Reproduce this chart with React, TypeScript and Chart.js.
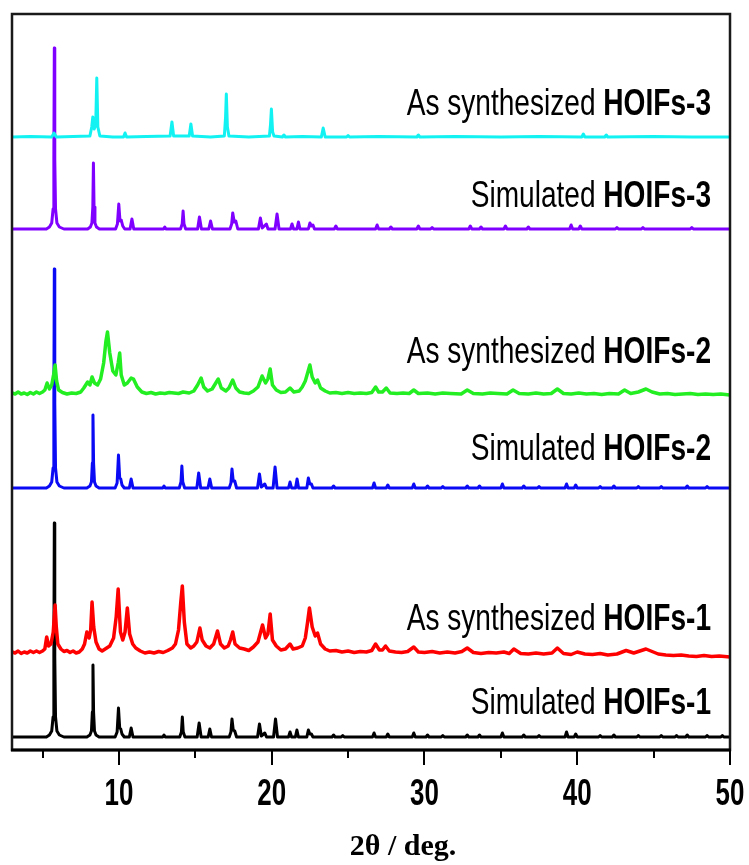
import React, { useEffect, useRef } from "react";
import { Chart, registerables } from "chart.js";

Chart.register(...registerables);

// 2θ range and vertical extent (intensity units, stacked patterns)
const X_MIN = 3;
const X_MAX = 50;
const Y_MAX = 736;
const X_MAJOR = [10, 20, 30, 40, 50];
const X_MINOR = [5, 15, 25, 35, 45];

// Pattern labels (regular prefix + bold sample name), top to bottom
const LABEL_PREFIX = ["As synthesized ", "Simulated ", "As synthesized ", "Simulated ", "As synthesized ", "Simulated "];
const LABEL_BOLD = ["HOIFs-3", "HOIFs-3", "HOIFs-2", "HOIFs-2", "HOIFs-1", "HOIFs-1"];
// Vertical offset of each pattern's baseline
const OFFSETS = [613, 521, 357, 262, 98, 13];
const COLORS = ["#12F2F2", "#8000FF", "#22EE22", "#0A0AF5", "#FF0000", "#000000"];

// As synthesized HOIFs-3: [2θ, intensity]
const asSyn3: number[][] = [
  [3, 0], [4.2, 0.5], [5.6, 0], [5.75, 4], [5.9, 0], [7.0, 0.5], [8.1, 1], [8.22, 10], [8.29, 20], [8.38, 8],
  [8.48, 12], [8.55, 59], [8.62, 10], [8.75, 1], [9.6, 0], [10.3, 0], [10.4, 4], [10.5, 0], [11.8, 0.5],
  [13.35, 1], [13.47, 15], [13.58, 1], [14.6, 1], [14.71, 13], [14.82, 1], [16.0, 0], [16.9, 1],
  [16.98, 20], [17.03, 43], [17.1, 10], [17.2, 1], [18.5, 0], [19.85, 1], [19.92, 12], [19.98, 28],
  [20.06, 5], [20.15, 1], [20.7, 0], [20.8, 2], [20.9, 0], [22.0, 0.5], [23.25, 0], [23.37, 9], [23.5, 0],
  [24.9, 0], [25.0, 1.5], [25.1, 0], [27.0, 0.5], [29.5, 0], [29.6, 2], [29.7, 0], [32.0, 0.5], [35.0, 0],
  [37.5, 0.5], [40.3, 0], [40.4, 3], [40.5, 0], [41.8, 0], [41.9, 2], [42.0, 0], [45.0, 0.5], [47.5, 0], [50, 0],
];

// Simulated HOIFs-3
const sim3: number[][] = [
  [3, 0], [5.25, 0], [5.45, 2], [5.6, 6], [5.69, 20], [5.74, 70], [5.77, 181], [5.8, 70], [5.85, 20],
  [5.94, 6], [6.1, 2], [6.4, 0], [7.95, 0], [8.13, 2], [8.23, 6], [8.29, 22], [8.33, 66], [8.37, 22],
  [8.43, 6], [8.53, 2], [8.72, 0], [9.78, 0], [9.9, 5], [9.99, 25], [10.07, 8], [10.15, 9], [10.25, 3],
  [10.38, 0], [10.73, 0], [10.85, 10], [10.97, 0], [12.92, 0], [13.0, 2], [13.08, 0], [14.03, 0],
  [14.14, 5], [14.2, 18], [14.26, 5], [14.37, 0], [15.15, 0], [15.27, 12], [15.4, 0], [15.88, 0],
  [16.0, 8], [16.12, 0], [17.27, 0], [17.38, 5], [17.45, 16], [17.55, 7], [17.65, 8], [17.78, 0],
  [19.13, 0], [19.26, 11], [19.38, 1], [19.65, 5], [19.76, 0], [20.22, 0], [20.35, 15], [20.48, 0],
  [21.23, 0], [21.33, 5], [21.43, 0], [21.65, 0], [21.75, 7], [21.85, 0], [22.4, 0], [22.5, 6],
  [22.6, 3], [22.7, 4], [22.8, 0], [24.1, 0], [24.2, 3], [24.3, 0], [26.8, 0], [26.9, 4], [27.0, 0],
  [27.7, 0], [27.8, 2], [27.9, 0], [29.5, 0], [29.6, 3], [29.7, 0], [30.4, 0], [30.5, 1.5], [30.6, 0],
  [32.9, 0], [33.0, 3], [33.1, 0], [33.6, 0], [33.7, 2], [33.8, 0], [35.2, 0], [35.3, 3], [35.4, 0],
  [36.7, 0], [36.8, 2], [36.9, 0], [39.5, 0], [39.6, 4], [39.7, 0], [40.1, 0], [40.2, 3], [40.3, 0],
  [42.5, 0], [42.6, 1.5], [42.7, 0], [44.2, 0], [44.3, 1.5], [44.4, 0], [47.4, 0], [47.5, 1.5],
  [47.6, 0], [50, 0],
];

// As synthesized HOIFs-2
const asSyn2: number[][] = [
  [3, 0], [3.2, -1], [3.4, 1], [3.6, -1], [3.8, 0], [4.0, -1.5], [4.2, 0.5], [4.4, -1], [4.6, 1], [4.8, -0.5],
  [5.0, 1], [5.15, 3], [5.3, 10], [5.45, 4], [5.6, 8], [5.72, 18], [5.82, 28], [5.92, 12], [6.05, 3],
  [6.3, 0.5], [6.6, -1], [6.9, 0], [7.2, -0.5], [7.5, 1], [7.7, 5], [7.95, 11], [8.1, 8], [8.24, 16],
  [8.4, 10], [8.6, 8], [8.8, 14], [9.0, 30], [9.15, 52], [9.25, 61], [9.4, 40], [9.6, 22], [9.8, 18],
  [9.95, 30], [10.05, 40], [10.15, 18], [10.35, 8], [10.55, 10], [10.8, 15], [10.95, 14], [11.2, 6],
  [11.5, 1], [11.8, -0.5], [12.1, 0.5], [12.4, -1], [12.7, 0], [13.0, -0.5], [13.3, 0.5], [13.6, 0],
  [13.9, -0.5], [14.2, 1], [14.6, 0], [14.9, 2], [15.15, 8], [15.38, 15], [15.55, 6], [15.8, 2], [16.1, 4],
  [16.3, 9], [16.5, 14], [16.7, 5], [17.0, 2], [17.2, 5], [17.45, 13], [17.65, 5], [17.9, 1], [18.2, 0],
  [18.5, -0.5], [18.8, 2], [19.1, 6], [19.37, 17], [19.6, 10], [19.75, 14], [19.9, 24], [20.05, 8],
  [20.3, 3], [20.6, 0.5], [20.9, 1], [21.2, 5], [21.45, 1], [21.8, 2], [22.0, 6], [22.2, 12], [22.35, 20],
  [22.5, 28], [22.65, 16], [22.85, 10], [23.0, 13], [23.2, 5], [23.5, 2], [23.8, 0], [24.2, 0.5],
  [24.6, -0.5], [25.0, 0.5], [25.4, -0.5], [25.8, 0], [26.2, -0.5], [26.55, 0.5], [26.8, 6], [27.0, 1],
  [27.25, 1], [27.5, 5], [27.75, 0], [28.2, -0.5], [28.6, 0], [29.0, -0.5], [29.3, 3], [29.6, -0.5],
  [30.2, 0], [30.7, -1], [31.2, 0], [31.7, -0.5], [32.4, -1], [32.8, 3], [33.2, -0.5], [33.8, -1],
  [34.3, 0], [34.8, -0.5], [35.4, -1], [35.8, 3], [36.2, -0.5], [36.8, -1], [37.3, 0], [37.8, -1],
  [38.3, -0.5], [38.7, 4], [39.1, -0.5], [39.6, -1], [40.1, 0], [40.6, -1], [41.1, -0.5], [41.6, -1.5],
  [42.1, -0.5], [42.7, -1], [43.1, 3], [43.5, -0.5], [44.0, 1], [44.5, 4], [44.9, 1], [45.4, -1],
  [45.9, -0.5], [46.4, -1.5], [46.9, -1], [47.4, -0.5], [47.9, -1.5], [48.4, -1], [48.9, -1.5],
  [49.4, -1], [50, -2],
];

// Simulated HOIFs-2
const sim2: number[][] = [
  [3, 0], [5.25, 0], [5.45, 2], [5.6, 6], [5.69, 20], [5.74, 85], [5.77, 219], [5.8, 85], [5.85, 20],
  [5.94, 6], [6.1, 2], [6.4, 0], [7.9, 0], [8.1, 2], [8.2, 6], [8.26, 25], [8.3, 73], [8.34, 25],
  [8.4, 6], [8.5, 2], [8.7, 0], [9.75, 0], [9.88, 5], [9.97, 33], [10.05, 10], [10.12, 9], [10.2, 3],
  [10.35, 0], [10.68, 0], [10.8, 9], [10.92, 0], [12.87, 0], [12.95, 2], [13.03, 0], [13.95, 0],
  [14.06, 6], [14.12, 22], [14.18, 6], [14.3, 0], [15.1, 0], [15.22, 15], [15.35, 0], [15.83, 0],
  [15.95, 9], [16.07, 0], [17.22, 0], [17.33, 5], [17.4, 19], [17.48, 7], [17.58, 7], [17.7, 0],
  [19.07, 0], [19.2, 14], [19.32, 1], [19.55, 4], [19.66, 0], [20.09, 0], [20.22, 21], [20.35, 0],
  [21.1, 0], [21.2, 6], [21.3, 0], [21.56, 0], [21.66, 9], [21.76, 0], [22.3, 0], [22.4, 10],
  [22.5, 4], [22.6, 4], [22.7, 0], [23.95, 0], [24.05, 2], [24.15, 0], [26.6, 0], [26.7, 5], [26.8, 0],
  [27.5, 0], [27.6, 3], [27.7, 0], [29.2, 0], [29.3, 4], [29.4, 0], [30.1, 0], [30.2, 2], [30.3, 0],
  [31.1, 0], [31.2, 1.5], [31.3, 0], [32.7, 0], [32.8, 2], [32.9, 0], [33.5, 0], [33.6, 2], [33.7, 0],
  [35.0, 0], [35.1, 4], [35.2, 0], [36.4, 0], [36.5, 2], [36.6, 0], [37.4, 0], [37.5, 1.5], [37.6, 0],
  [39.2, 0], [39.3, 4], [39.4, 0], [39.8, 0], [39.9, 3], [40.0, 0], [41.4, 0], [41.5, 1.5], [41.6, 0],
  [42.3, 0], [42.4, 2], [42.5, 0], [43.9, 0], [44.0, 1.5], [44.1, 0], [45.4, 0], [45.5, 1.5], [45.6, 0],
  [47.1, 0], [47.2, 2], [47.3, 0], [48.4, 0], [48.5, 1.5], [48.6, 0], [50, 0],
];

// As synthesized HOIFs-1
const asSyn1: number[][] = [
  [3, 0], [3.2, -1], [3.4, 1], [3.6, -1.5], [3.8, 0], [4.0, -1], [4.2, 1], [4.4, -0.5], [4.6, 1], [4.8, -0.5],
  [5.0, 1], [5.15, 3], [5.27, 15], [5.4, 6], [5.55, 8], [5.7, 20], [5.82, 47], [5.9, 25], [6.0, 8],
  [6.2, 3], [6.4, 0.5], [6.6, 1.5], [6.8, -0.5], [7.0, 1], [7.2, -1], [7.4, 0], [7.6, 3], [7.75, 8], [7.9, 20],
  [8.05, 14], [8.15, 22], [8.24, 50], [8.35, 25], [8.5, 10], [8.7, 3], [8.9, 1], [9.1, 3], [9.4, 6],
  [9.65, 14], [9.82, 35], [9.95, 63], [10.1, 20], [10.25, 12], [10.4, 20], [10.55, 44], [10.7, 18],
  [10.9, 8], [11.1, 4], [11.4, 1], [11.7, -1], [12.0, 0], [12.3, -1], [12.6, 0.5], [12.9, -0.5], [13.2, 1.5],
  [13.5, 4], [13.7, 8], [13.9, 22], [14.05, 50], [14.15, 66], [14.28, 30], [14.45, 8], [14.7, 4],
  [14.9, 6], [15.1, 10], [15.3, 24], [15.45, 12], [15.7, 6], [15.95, 4], [16.2, 8], [16.45, 21],
  [16.65, 8], [16.9, 4], [17.15, 6], [17.3, 12], [17.45, 20], [17.6, 8], [17.9, 4], [18.2, 3], [18.5, 1.5],
  [18.8, 5], [19.1, 10], [19.4, 27], [19.6, 14], [19.75, 18], [19.9, 38], [20.05, 12], [20.3, 6],
  [20.6, 2], [20.9, 3], [21.2, 8], [21.4, 3], [21.7, 4], [22.0, 6], [22.2, 14], [22.35, 30], [22.47, 44],
  [22.65, 25], [22.85, 16], [23.0, 19], [23.2, 8], [23.5, 3], [23.8, 1], [24.2, 1.5], [24.6, 0], [25.0, 1],
  [25.4, -0.5], [25.8, 0.5], [26.2, 0], [26.55, 1.5], [26.8, 8], [27.05, 2], [27.25, 2], [27.45, 6], [27.7, 1],
  [28.1, 0], [28.5, -0.5], [28.9, 0.5], [29.3, 5], [29.6, 0], [30.0, -0.5], [30.5, 0.5], [31.0, -1], [31.5, 0],
  [32.0, -1], [32.45, 0.5], [32.8, 4], [33.2, -0.5], [33.7, -1.5], [34.2, -0.5], [34.7, -1], [35.2, 0],
  [35.55, -1.5], [35.85, 3], [36.3, -1.5], [36.8, -2], [37.3, -1], [37.8, -2], [38.35, -1], [38.7, 4],
  [39.1, -1.5], [39.6, -2.5], [40.0, 0], [40.5, -2], [41.0, -2.5], [41.5, -1.5], [42.0, -3], [42.6, -2],
  [43.2, 1.5], [43.7, -1], [44.1, 1], [44.5, 3], [44.9, 0.5], [45.3, -2], [45.8, -3], [46.3, -3.5],
  [46.8, -3], [47.3, -4], [47.8, -4.5], [48.3, -3.5], [48.8, -4.5], [49.3, -4], [50, -5],
];

// Simulated HOIFs-1
const sim1: number[][] = [
  [3, 0], [5.25, 0], [5.45, 2], [5.6, 6], [5.69, 20], [5.74, 80], [5.77, 214], [5.8, 80], [5.85, 20],
  [5.94, 6], [6.1, 2], [6.4, 0], [7.9, 0], [8.1, 2], [8.2, 6], [8.26, 25], [8.3, 72], [8.34, 25],
  [8.4, 6], [8.5, 2], [8.7, 0], [9.75, 0], [9.88, 5], [9.97, 29], [10.05, 9], [10.12, 8], [10.2, 3],
  [10.35, 0], [10.68, 0], [10.8, 9], [10.92, 0], [12.87, 0], [12.95, 2], [13.03, 0], [13.98, 0],
  [14.09, 5], [14.15, 20], [14.21, 5], [14.32, 0], [15.12, 0], [15.25, 14], [15.38, 0], [15.84, 0],
  [15.95, 8], [16.06, 0], [17.22, 0], [17.33, 5], [17.4, 18], [17.48, 7], [17.58, 6], [17.7, 0],
  [19.07, 0], [19.2, 13], [19.32, 1], [19.55, 4], [19.66, 0], [20.12, 0], [20.25, 18], [20.38, 0],
  [21.1, 0], [21.2, 5], [21.3, 0], [21.55, 0], [21.65, 7], [21.75, 0], [22.3, 0], [22.4, 7], [22.5, 3],
  [22.6, 3], [22.7, 0], [23.95, 0], [24.05, 2], [24.15, 0], [24.55, 0], [24.65, 1.5], [24.75, 0],
  [26.6, 0], [26.7, 4], [26.8, 0], [27.5, 0], [27.6, 3], [27.7, 0], [29.2, 0], [29.3, 4], [29.4, 0],
  [30.1, 0], [30.2, 2], [30.3, 0], [31.1, 0], [31.2, 1.5], [31.3, 0], [32.7, 0], [32.8, 2], [32.9, 0],
  [33.5, 0], [33.6, 2], [33.7, 0], [35.0, 0], [35.1, 4], [35.2, 0], [36.4, 0], [36.5, 2], [36.6, 0],
  [37.4, 0], [37.5, 1.5], [37.6, 0], [39.2, 0], [39.3, 5], [39.4, 0], [39.8, 0], [39.9, 3], [40.0, 0],
  [41.4, 0], [41.5, 1.5], [41.6, 0], [42.3, 0], [42.4, 2], [42.5, 0], [43.9, 0], [44.0, 1.5], [44.1, 0],
  [45.4, 0], [45.5, 1.5], [45.6, 0], [46.4, 0], [46.5, 1.5], [46.6, 0], [47.1, 0], [47.2, 2], [47.3, 0],
  [48.4, 0], [48.5, 1.5], [48.6, 0], [49.4, 0], [49.5, 1.5], [49.6, 0], [50, 0],
];

const PATTERNS = [asSyn3, sim3, asSyn2, sim2, asSyn1, sim1];
const LINE_WIDTHS = [3, 3, 3.5, 3, 3.5, 3];
// Label baseline lift above each pattern's baseline, in pixels
const LABEL_LIFT = [22, 22, 30, 28, 22, 23];

// Condensed text drawn by horizontal scaling
function drawCondensed(ctx: CanvasRenderingContext2D, text: string, x: number, y: number, sx: number, align: CanvasTextAlign) {
  ctx.save();
  ctx.translate(x, y);
  ctx.scale(sx, 1);
  ctx.textAlign = align;
  ctx.fillText(text, 0, 0);
  ctx.restore();
}

const decorations = {
  id: "xrdDecorations",
  afterDraw(chart: any) {
    const { ctx, chartArea, scales } = chart;
    const xs = scales.x;
    const ys = scales.y;
    const { left, right, top, bottom } = chartArea;
    ctx.save();

    // frame
    ctx.strokeStyle = "#1a1a1a";
    ctx.lineWidth = 2.5;
    ctx.strokeRect(left, top, right - left, bottom - top);
    ctx.strokeStyle = "#000";
    ctx.lineWidth = 3;
    ctx.beginPath();
    ctx.moveTo(left - 1, bottom);
    ctx.lineTo(right + 1, bottom);
    ctx.stroke();

    // ticks
    ctx.lineWidth = 2;
    for (const v of X_MAJOR) {
      const px = Math.round(xs.getPixelForValue(v));
      ctx.beginPath();
      ctx.moveTo(px, bottom);
      ctx.lineTo(px, bottom + 15);
      ctx.stroke();
    }
    for (const v of X_MINOR) {
      const px = Math.round(xs.getPixelForValue(v));
      ctx.beginPath();
      ctx.moveTo(px, bottom);
      ctx.lineTo(px, bottom + 8);
      ctx.stroke();
    }

    // tick labels
    ctx.fillStyle = "#000";
    ctx.textBaseline = "alphabetic";
    ctx.font = "bold 37px 'Liberation Sans', Arial, sans-serif";
    for (const v of X_MAJOR) {
      drawCondensed(ctx, String(v), xs.getPixelForValue(v), bottom + 55, 0.7, "center");
    }

    // axis title
    ctx.font = "bold 30px 'Liberation Serif', 'Times New Roman', serif";
    ctx.textAlign = "center";
    ctx.fillText("2θ / deg.", xs.getPixelForValue(28.6), bottom + 105);

    // pattern labels, right aligned
    const sx = 0.78;
    const xRight = right - 19;
    for (let i = 0; i < LABEL_BOLD.length; i++) {
      const yBase = ys.getPixelForValue(OFFSETS[i]) - LABEL_LIFT[i];
      ctx.font = "bold 36px 'Liberation Sans', Arial, sans-serif";
      const wBold = ctx.measureText(LABEL_BOLD[i]).width * sx;
      drawCondensed(ctx, LABEL_BOLD[i], xRight, yBase, sx, "right");
      ctx.font = "36px 'Liberation Sans', Arial, sans-serif";
      drawCondensed(ctx, LABEL_PREFIX[i], xRight - wBold, yBase, sx, "right");
    }
    ctx.restore();
  },
};

export default function App() {
  const canvasRef = useRef<HTMLCanvasElement | null>(null);

  useEffect(() => {
    if (!canvasRef.current) return;
    const datasets = PATTERNS.map((pts, i) => ({
      label: LABEL_PREFIX[i] + LABEL_BOLD[i],
      data: pts.map(([x, y]) => ({ x, y: y + OFFSETS[i] })),
      borderColor: COLORS[i],
      backgroundColor: COLORS[i],
      borderWidth: LINE_WIDTHS[i],
      borderJoinStyle: "round" as const,
      pointRadius: 0,
      tension: 0,
      fill: false,
    }));
    const chart = new Chart(canvasRef.current, {
      type: "line",
      data: { datasets },
      options: {
        animation: false,
        responsive: false,
        maintainAspectRatio: false,
        layout: { padding: { left: 12, top: 14, right: 19, bottom: 115 } },
        plugins: { legend: { display: false }, tooltip: { enabled: false } },
        scales: {
          x: { type: "linear", min: X_MIN, max: X_MAX, display: false },
          y: { type: "linear", min: 0, max: Y_MAX, display: false },
        },
      },
      plugins: [decorations],
    });
    return () => chart.destroy();
  }, []);

  return (
    <div style={{ position: "absolute", left: 0, top: 0, width: 749, height: 865, background: "#fff" }}>
      <canvas ref={canvasRef} width={749} height={865} />
    </div>
  );
}
